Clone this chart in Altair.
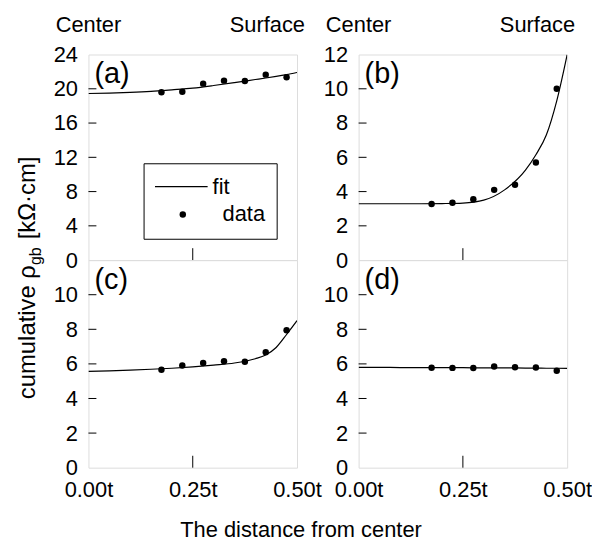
import altair as alt
import pandas as pd

# ---------------- data ----------------
x_pts = [0.175, 0.225, 0.275, 0.325, 0.375, 0.425, 0.475]
a_pts = [19.6, 19.65, 20.6, 20.95, 20.9, 21.65, 21.35]
b_pts = [3.27, 3.35, 3.55, 4.1, 4.4, 5.7, 10.0]
c_pts = [5.66, 5.91, 6.05, 6.15, 6.12, 6.68, 7.95]
d_pts = [5.78, 5.77, 5.76, 5.85, 5.81, 5.79, 5.6]

x_fit = [0.0, 0.05, 0.1, 0.15, 0.2, 0.25, 0.3, 0.35, 0.4, 0.425, 0.45, 0.475, 0.5]
a_fit = [19.45, 19.5, 19.58, 19.7, 19.88, 20.08, 20.38, 20.72, 21.08, 21.26, 21.45, 21.66, 21.9]
b_fit = [3.29, 3.29, 3.29, 3.29, 3.3, 3.33, 3.5, 4.1, 5.25, 6.15, 7.3, 9.3, 12.0]
c_fit = [5.57, 5.6, 5.64, 5.69, 5.75, 5.83, 5.93, 6.05, 6.3, 6.52, 6.95, 7.7, 8.5]
d_fit = [5.8, 5.8, 5.79, 5.79, 5.78, 5.78, 5.77, 5.77, 5.76, 5.76, 5.75, 5.75, 5.74]

x_tick_values = [0.0, 0.25, 0.5]
x_inner_ticks = [0.25]
y_ticks_a = [0, 4, 8, 12, 16, 20, 24]
y_ticks_b = [0, 2, 4, 6, 8, 10, 12]
y_ticks_cd = [0, 2, 4, 6, 8, 10]
panel_labels = ["(a)", "(b)", "(c)", "(d)"]
top_labels = ["Center", "Surface"]
legend_labels = ["fit", "data"]
x_title = "The distance from center"
y_title_parts = ["cumulative \u03c1", "gb", "[k\u03a9\u00b7cm]"]

FONT = "Liberation Sans"
FS = 22
W = 210
H_TOP = 207
H_BOT = 209


def panel(pts, fit, ymax, yticks, label, height, show_x_labels, extras):
    xs = alt.Scale(domain=[0, 0.5], nice=False, zero=False)
    ys = alt.Scale(domain=[0, ymax], nice=False, zero=False)
    xaxis = alt.Axis(values=x_tick_values, labelExpr="format(datum.value, '.2f') + 't'",
                     ticks=False, domain=False, grid=False, labels=show_x_labels,
                     title=None, labelFont=FONT, labelFontSize=FS, labelColor="black",
                     labelPadding=12, labelFlush=False)
    yaxis = alt.Axis(values=yticks, format="d", ticks=False, domain=False, grid=False,
                     title=None, labelFont=FONT, labelFontSize=FS, labelColor="black",
                     labelPadding=11, labelFlush=False)

    def X(f="x"):
        return alt.X(f + ":Q", scale=xs, axis=xaxis)

    def Y(f="y"):
        return alt.Y(f + ":Q", scale=ys, axis=yaxis)

    df_pts = pd.DataFrame({"x": x_pts, "y": pts})
    df_fit = pd.DataFrame({"x": x_fit, "y": fit})

    fit_line = alt.Chart(df_fit).mark_line(color="black", strokeWidth=1.2,
                                           interpolate="monotone", clip=True).encode(x=X(), y=Y())
    dots = alt.Chart(df_pts).mark_circle(color="black", opacity=1, size=42).encode(x=X(), y=Y())

    inner_y = [v for v in yticks if 0 < v < ymax]
    ytick_rules = alt.Chart(pd.DataFrame({"y": inner_y})).mark_rule(
        color="black", strokeWidth=1).encode(y=Y(), x=alt.value(0), x2=alt.value(8))
    xtick_rules = alt.Chart(pd.DataFrame({"x": x_inner_ticks})).mark_rule(
        color="black", strokeWidth=1).encode(x=X(), y=alt.value(height), y2=alt.value(height - 12))

    lab = alt.Chart(pd.DataFrame({"t": [label]})).mark_text(
        font=FONT, fontSize=29, align="left", baseline="alphabetic", color="black").encode(
        x=alt.value(6), y=alt.value(29), text="t:N")

    layers = [ytick_rules, xtick_rules, fit_line, dots, lab] + extras
    return alt.layer(*layers).properties(width=W, height=height)


def top_texts():
    c = alt.Chart(pd.DataFrame({"t": [top_labels[0]]})).mark_text(
        font=FONT, fontSize=FS, align="center", baseline="alphabetic", color="black").encode(
        x=alt.value(0), y=alt.value(-23), text="t:N")
    s = alt.Chart(pd.DataFrame({"t": [top_labels[1]]})).mark_text(
        font=FONT, fontSize=FS, align="right", baseline="alphabetic", color="black").encode(
        x=alt.value(W + 8), y=alt.value(-23), text="t:N")
    return [c, s]


def legend_layers():
    box = alt.Chart(pd.DataFrame({"k": [0]})).mark_rect(
        fill="white", stroke="black", strokeWidth=1).encode(
        x=alt.value(56), x2=alt.value(190), y=alt.value(110), y2=alt.value(186))
    line = alt.Chart(pd.DataFrame({"k": [0]})).mark_rule(color="black", strokeWidth=1.2).encode(
        x=alt.value(67), x2=alt.value(120), y=alt.value(133))
    dot = alt.Chart(pd.DataFrame({"k": [0]})).mark_circle(color="black", opacity=1, size=42).encode(
        x=alt.value(95), y=alt.value(161))
    t1 = alt.Chart(pd.DataFrame({"t": [legend_labels[0]]})).mark_text(
        font=FONT, fontSize=FS, align="left", baseline="middle", color="black").encode(
        x=alt.value(125), y=alt.value(133), text="t:N")
    t2 = alt.Chart(pd.DataFrame({"t": [legend_labels[1]]})).mark_text(
        font=FONT, fontSize=FS, align="left", baseline="middle", color="black").encode(
        x=alt.value(135), y=alt.value(161), text="t:N")
    return [box, line, dot, t1, t2]


def y_title_layers():
    p1 = alt.Chart(pd.DataFrame({"t": [y_title_parts[0]]})).mark_text(
        font=FONT, fontSize=24, angle=270, align="left", baseline="alphabetic", color="black").encode(
        x=alt.value(-54), y=alt.value(347), text="t:N")
    p2 = alt.Chart(pd.DataFrame({"t": [y_title_parts[1]]})).mark_text(
        font=FONT, fontSize=16, angle=270, align="left", baseline="alphabetic", color="black").encode(
        x=alt.value(-48), y=alt.value(212), text="t:N")
    p3 = alt.Chart(pd.DataFrame({"t": [y_title_parts[2]]})).mark_text(
        font=FONT, fontSize=24, angle=270, align="left", baseline="alphabetic", color="black").encode(
        x=alt.value(-54), y=alt.value(186), text="t:N")
    return [p1, p2, p3]


def x_title_layer():
    return [alt.Chart(pd.DataFrame({"t": [x_title]})).mark_text(
        font=FONT, fontSize=FS, align="center", baseline="alphabetic", color="black").encode(
        x=alt.value(214), y=alt.value(279), text="t:N")]


pa = panel(a_pts, a_fit, 24, y_ticks_a, panel_labels[0], H_TOP, False,
           top_texts() + legend_layers() + y_title_layers())
pb = panel(b_pts, b_fit, 12, y_ticks_b, panel_labels[1], H_TOP, False, top_texts())
pc = panel(c_pts, c_fit, 12, y_ticks_cd, panel_labels[2], H_BOT, True, x_title_layer())
pd_ = panel(d_pts, d_fit, 12, y_ticks_cd, panel_labels[3], H_BOT, True, [])

chart = alt.concat(pa, pb, pc, pd_, columns=2, spacing={"row": 0, "column": 62},
                   bounds="flush").resolve_scale(
    x="independent", y="independent"
).properties(
    padding={"left": 7, "top": 3, "right": 0, "bottom": 0}
).configure_view(stroke="black", strokeWidth=1).configure(background="white")

chart.save("out.html", embed_options={"renderer": "svg", "actions": False})
